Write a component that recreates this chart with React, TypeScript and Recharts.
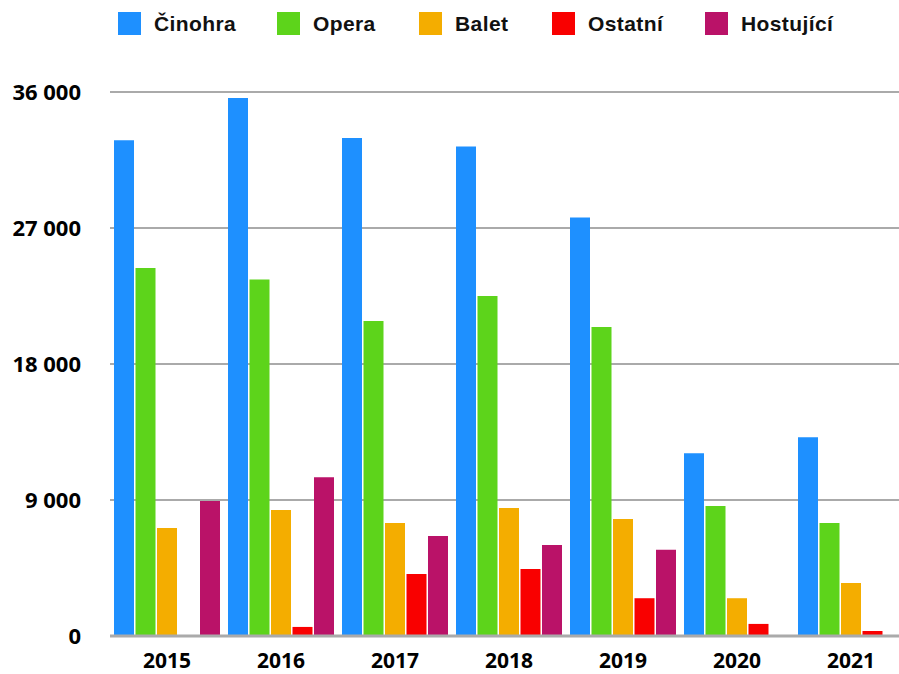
import { BarChart, Bar, XAxis, YAxis, CartesianGrid } from "recharts";

const years = ["2015", "2016", "2017", "2018", "2019", "2020", "2021"];
const cinohra = [32800, 35600, 32950, 32400, 27700, 12100, 13150];
const opera = [24350, 23600, 20850, 22500, 20450, 8600, 7480];
const balet = [7150, 8340, 7480, 8470, 7740, 2500, 3500];
const ostatni = [0, 600, 4100, 4430, 2500, 800, 330];
const hostujici = [8930, 10500, 6620, 6020, 5700, 0, 0];
const yTicks = [0, 9000, 18000, 27000, 36000];

const series = [
  { key: "cinohra", name: "Činohra", color: "#1E90FF", left: 118 },
  { key: "opera", name: "Opera", color: "#5DD41B", left: 277 },
  { key: "balet", name: "Balet", color: "#F4AD00", left: 419 },
  { key: "ostatni", name: "Ostatní", color: "#F90000", left: 552 },
  { key: "hostujici", name: "Hostující", color: "#BA1268", left: 705 },
];

const data = years.map((year, i) => ({
  year,
  cinohra: cinohra[i],
  opera: opera[i],
  balet: balet[i],
  ostatni: ostatni[i],
  hostujici: hostujici[i],
}));

const formatThousands = (v: number) =>
  String(v).replace(/\B(?=(\d{3})+(?!\d))/g, " ");

const axisFont = {
  fill: "#000",
  fontSize: 21,
  fontWeight: 700,
  fontFamily: "'Open Sans', sans-serif",
};

export default function App() {
  // the plot runs a little past the right edge, like the reference
  return (
    <div
      style={{
        position: "absolute",
        top: 0,
        left: 0,
        width: 899,
        height: 674,
        overflow: "hidden",
      }}
    >
      {series.map((s) => (
        <div
          key={s.key}
          style={{
            position: "absolute",
            top: 12,
            left: s.left,
            display: "flex",
            alignItems: "center",
            height: 23,
            fontFamily: "'Liberation Sans', Arial, sans-serif",
            fontWeight: 700,
            fontSize: 21,
            letterSpacing: 0.4,
            color: "#111",
            whiteSpace: "nowrap",
          }}
        >
          <span style={{ width: 23, height: 23, background: s.color, marginRight: 13 }} />
          {s.name}
        </div>
      ))}
      <BarChart
        width={909}
        height={674}
        data={data}
        margin={{ top: 92, right: 1, left: 0, bottom: 0 }}
        barGap={1.5}
        barSize={20}
      >
        <CartesianGrid vertical={false} stroke="#aaaaaa" strokeWidth={2} />
        <XAxis
          dataKey="year"
          height={38}
          axisLine={{ stroke: "#aaaaaa", strokeWidth: 3 }}
          tickLine={false}
          tickSize={0}
          tickMargin={17}
          tick={axisFont}
        />
        <YAxis
          width={110}
          domain={[0, 36000]}
          ticks={yTicks}
          axisLine={false}
          tickLine={false}
          tickSize={0}
          tickMargin={29}
          tick={{ ...axisFont, fontSize: 22 }}
          tickFormatter={formatThousands}
        />
        {series.map((s) => (
          <Bar
            key={s.key}
            dataKey={s.key}
            name={s.name}
            fill={s.color}
            isAnimationActive={false}
          />
        ))}
      </BarChart>
    </div>
  );
}
